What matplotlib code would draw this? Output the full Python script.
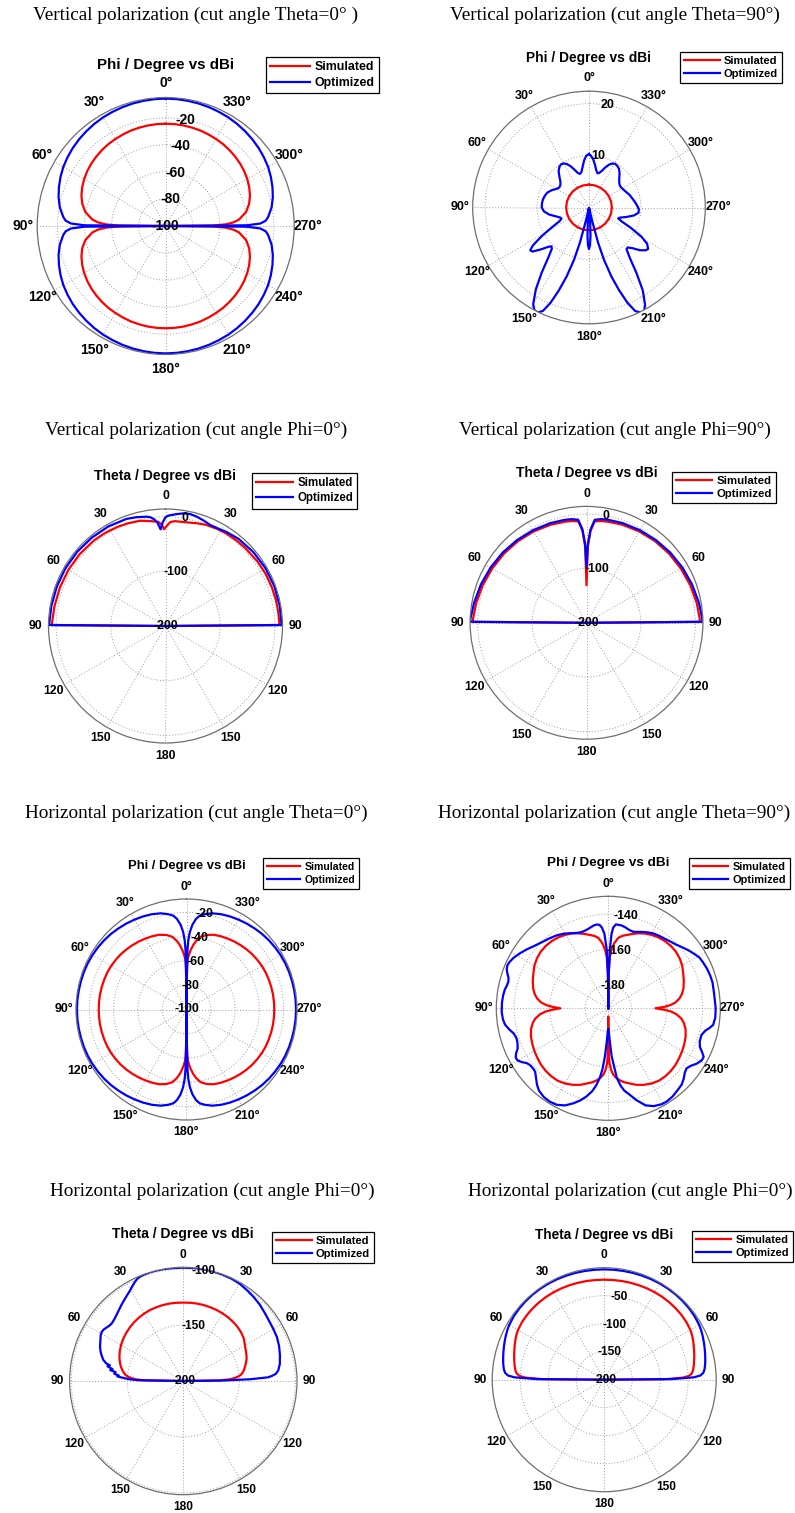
import numpy as np
import matplotlib.pyplot as plt

plt.rcParams['font.family'] = ['Liberation Sans', 'DejaVu Sans']

W, H = 795, 1513
fig = plt.figure(figsize=(W / 100, H / 100), dpi=100)

#-------------------------------------- labels
phi_labels   = ['0°', '30°', '60°', '90°', '120°', '150°', '180°', '210°', '240°', '270°', '300°', '330°']
theta_labels = ['0', '30', '60', '90', '120', '150', '180', '150', '120', '90', '60', '30']
sup_titles = ['Vertical polarization (cut angle Theta=0° )',
              'Vertical polarization (cut angle Theta=90°)',
              'Vertical polarization (cut angle Phi=0°)',
              'Vertical polarization (cut angle Phi=90°)',
              'Horizontal polarization (cut angle Theta=0°)',
              'Horizontal polarization (cut angle Theta=90°)',
              'Horizontal polarization (cut angle Phi=0°)',
              'Horizontal polarization (cut angle Phi=0°)']
sub_titles = ['Phi / Degree vs dBi'] * 2 + ['Theta / Degree vs dBi'] * 2 + \
             ['Phi / Degree vs dBi'] * 2 + ['Theta / Degree vs dBi'] * 2

#-------------------------------------- panel 1 : vertical, theta = 0 (phi cut)
p1_ang = [0, 5, 10, 15, 20, 25, 30, 35, 40, 45, 50, 55, 60, 65, 70, 75, 80, 85, 87, 88.5, 89.5, 90,
          90.5, 91.5, 93, 95, 100, 105, 110, 115, 120, 125, 130, 135, 140, 145, 150, 155, 160, 165, 170, 175, 180,
          185, 190, 195, 200, 205, 210, 215, 220, 225, 230, 235, 240, 245, 250, 255, 260, 265, 267, 268.5, 269.5, 270,
          270.5, 271.5, 273, 275, 280, 285, 290, 295, 300, 305, 310, 315, 320, 325, 330, 335, 340, 345, 350, 355, 360]
p1_sim_up  = [-24.4, -24.4, -24.5, -24.7, -24.9, -25.3, -25.7, -26.1, -26.7, -27.4, -28.2, -29.2, -30.4, -31.9,
              -33.7, -36.1, -39.6, -45.6, -50.0, -56.0, -65.6, -100]
p1_sim_dn  = [-65.6, -56.0, -50.0, -45.6, -39.6, -36.1, -33.7, -31.9, -30.4, -29.2, -28.2, -27.4, -26.7, -26.1,
              -25.7, -25.3, -24.9, -24.7, -24.5, -24.4, -24.4]
p1_sim_up2 = [-24.4, -24.5, -24.7, -24.9, -25.3, -25.7, -26.1, -26.7, -27.4, -28.2, -29.2, -30.4, -31.9, -33.7,
              -36.1, -39.6, -45.6, -50.0, -56.0, -65.6, -100]
p1_opt_up  = [-5.8, -5.85, -6.0, -6.2, -6.5, -6.9, -7.3, -7.9, -8.6, -9.4, -10.3, -11.4, -12.6, -14.2,
              -16.0, -18.0, -20.5, -24.0, -26.0, -30.0, -40.0, -100]
p1_opt_dn  = [-40.0, -30.0, -26.0, -24.0, -20.5, -18.0, -16.0, -14.2, -12.6, -11.4, -10.3, -9.4, -8.6, -7.9,
              -7.3, -6.9, -6.5, -6.2, -6.0, -5.85, -5.8]
p1_opt_up2 = [-5.85, -6.0, -6.2, -6.5, -6.9, -7.3, -7.9, -8.6, -9.4, -10.3, -11.4, -12.6, -14.2, -16.0,
              -18.0, -20.5, -24.0, -26.0, -30.0, -40.0, -100]
p1_sim = p1_sim_up + p1_sim_dn + p1_sim_up2 + p1_sim_dn
p1_opt = p1_opt_up + p1_opt_dn + p1_opt_up2 + p1_opt_dn

#-------------------------------------- panel 2 : vertical, theta = 90 (phi cut)
p2_sim_ang = [0, 15, 30, 45, 60, 75, 90, 105, 120, 135, 150, 165, 180,
              195, 210, 225, 240, 255, 270, 285, 300, 315, 330, 345, 360]
p2_sim = [4.4] * 25
p2_opt_ang = [0, 3, 6, 9, 12, 15, 18, 21, 24, 27, 30, 33, 36, 40, 44, 48, 52, 56, 60, 65,
              70, 75, 80, 85, 90, 95, 100, 105, 109, 112, 115, 118, 121, 124, 126, 128, 131, 134, 136, 138,
              141, 144, 147, 150, 152, 154, 156, 158, 160, 162, 164, 165.5, 166.5, 167.5, 170, 173, 175, 177, 178.5, 180,
              181.5, 183, 185, 187, 190, 192.5, 193.5, 194.5, 196, 198, 200, 202, 204, 206, 208, 210, 213, 216, 219, 222,
              224, 227, 230, 233, 235, 238, 241, 244, 247, 249.5, 252, 256, 260, 264, 268, 272, 277, 282, 287, 292,
              297, 302, 306, 310, 314, 318, 322, 326, 329, 332, 335, 338, 341, 344, 346, 349, 352, 355, 358, 360]
p2_opt = [10.3, 10.0, 9.1, 7.9, 7.0, 6.7, 7.0, 7.8, 8.7, 9.4, 9.8, 9.9, 9.7, 9.1, 8.2, 7.4, 7.0, 6.9, 7.2, 7.9,
          8.5, 8.8, 9.0, 9.1, 9.1, 8.7, 7.8, 6.6, 5.9, 5.7, 6.3, 8.0, 10.5, 13.0, 14.0, 13.8, 12.3, 10.9, 10.4, 10.7,
          12.5, 15.5, 18.8, 21.5, 22.4, 22.5, 21.8, 19.8, 17.0, 14.0, 10.5, 7.0, 3.0, 0.5, 0.1, 0.5, 2.5, 5.5, 7.3, 8.0,
          7.3, 5.5, 2.5, 0.5, 0.1, 0.5, 3.0, 7.0, 10.5, 14.0, 17.0, 19.8, 21.8, 22.5, 22.6, 21.6, 19.0, 15.5, 12.5, 10.8,
          10.7, 11.5, 12.8, 13.7, 13.9, 13.2, 11.5, 9.0, 6.8, 6.0, 6.3, 7.5, 8.8, 9.6, 9.6, 9.3, 8.9, 8.5, 8.2, 7.8,
          7.5, 7.3, 7.3, 7.6, 8.1, 8.8, 9.4, 9.7, 9.8, 9.6, 9.1, 8.3, 7.4, 6.9, 6.8, 7.3, 8.3, 9.3, 10.0, 10.3]

#-------------------------------------- panel 3 : vertical, phi = 0 (theta cut)
p3_sim_ang = [-90, -89.5, -88, -83, -77, -70, -62.5, -55, -46, -40, -33, -28, -22, -17, -11.5, -5, -2.5, -1,
              0.9, 2, 4, 8.4, 13.6, 20, 26, 33, 40, 50, 60, 70, 80, 88, 89.5, 90]
p3_sim = [-200, 8.2, 8.2, 7.8, 7.5, 7.0, 6.5, 5.5, 4.0, 3.3, 2.5, 1.2, -0.6, -3.5, -6.5, -7.5, -10, -16,
          -23, -15, -9, -6, -2, 0, 1.5, 3, 4, 4.8, 5.2, 5.6, 6.3, 7.5, 8, -200]
p3_opt_ang = [-90, -89.5, -88, -80, -70, -60, -50, -40, -33, -28, -24, -20, -16, -12.3, -9, -6, -3.2, -1.5,
              0, 1.5, 2.9, 4.5, 6, 8, 10, 15, 20, 30, 40, 50, 60, 70, 80, 88, 89.5, 90]
p3_opt = [-200, 12, 12, 12.2, 12, 11.3, 10, 8, 5, 2.5, 2, 5, 8, 9.7, 8.5, 6, 3.4, 2,
          -1, -10, -23, -10, -4, 1, 3, 6, 8.5, 10, 10.5, 11, 11.3, 11.5, 12, 12.5, 12.5, -200]

#-------------------------------------- panel 4 : vertical, phi = 90 (theta cut)
p4_ang = [-90, -89.5, -88, -80, -70, -60, -50, -40, -30, -20, -12, -8, -4.6, -2.5, -1,
          0, 1, 2.5, 4.6, 8, 12, 20, 30, 40, 50, 60, 70, 80, 88, 89.5, 90]
p4_sim = [-200, 8.5, 8.3, 6, 3, 0, -2, -4, -6, -8, -10, -11, -13, -31, -60,
          -131, -60, -31, -13, -11, -10, -8, -6, -4, -2, 0, 3, 6, 8.8, 9.2, -200]
p4_opt = [-200, 13.2, 13, 10, 6.5, 3.5, 1, -1.5, -3.5, -5, -6.5, -7.5, -10, -28, -55,
          -98, -55, -28, -10, -7.5, -6.5, -5, -3.5, -1.5, 1, 3.5, 6.5, 10, 13.5, 13.8, -200]

#-------------------------------------- panel 5 : horizontal, theta = 0 (phi cut)
p5_ang = [0, 0.5, 1, 1.5, 2.5, 4, 6, 8, 11, 15, 20, 25, 30, 35, 40, 45, 50, 55, 60, 65, 70, 75, 80, 85, 90,
          95, 100, 105, 110, 115, 120, 125, 130, 135, 140, 145, 150, 155, 160, 165, 169, 172, 174, 176, 177.5,
          178.5, 179, 179.5, 180,
          180.5, 181, 181.5, 182.5, 184, 186, 188, 191, 195, 200, 205, 210, 215, 220, 225, 230, 235, 240, 245, 250,
          255, 260, 265, 270,
          275, 280, 285, 290, 295, 300, 305, 310, 315, 320, 325, 330, 335, 340, 345, 349, 352, 354, 356, 357.5,
          358.5, 359, 359.5, 360]
p5_sim_a = [-100, -75, -62, -58, -55, -51, -46.5, -43, -39, -36.5, -34.5, -33.4, -32.5, -31.6, -30.8, -30.0,
            -29.3, -28.8, -28.3, -28.0, -27.9, -27.8, -27.7, -27.7, -27.7]
p5_sim_b = [-27.7, -27.7, -27.8, -27.9, -28.0, -28.3, -28.8, -29.3, -30.0, -30.8, -31.6, -32.5, -33.4, -34.5,
            -36.5, -39, -43, -46.5, -51, -55, -58, -62, -75, -100]
p5_sim_c = [-75, -62, -58, -55, -51, -46.5, -43, -39, -36.5, -34.5, -33.4, -32.5, -31.6, -30.8, -30.0, -29.3,
            -28.8, -28.3, -28.0, -27.9, -27.8, -27.7, -27.7, -27.7]
p5_opt_a = [-100, -70, -50, -43, -36, -30, -25, -22, -20, -18, -16.5, -15.4, -14.5, -13.6, -12.8, -12.0,
            -11.4, -10.9, -10.5, -10.2, -10.05, -10.0, -9.9, -9.8, -9.8]
p5_opt_b = [-9.8, -9.9, -10.0, -10.05, -10.2, -10.5, -10.9, -11.4, -12.0, -12.8, -13.6, -14.5, -15.4, -16.5,
            -18, -20, -22, -25, -30, -36, -43, -50, -70, -100]
p5_opt_c = [-70, -50, -43, -36, -30, -25, -22, -20, -18, -16.5, -15.4, -14.5, -13.6, -12.8, -12.0, -11.4,
            -10.9, -10.5, -10.2, -10.05, -10.0, -9.9, -9.8, -9.8]
p5_sim = p5_sim_a + p5_sim_b + p5_sim_c + p5_sim_b
p5_opt = p5_opt_a + p5_opt_b + p5_opt_c + p5_opt_b

#-------------------------------------- panel 6 : horizontal, theta = 90 (phi cut)
p6_sim_ang = [0, 0.8, 1.8, 3, 5, 8, 11, 14, 18, 22, 26, 30, 35, 40, 45, 50, 55, 60, 65, 70,
              75, 79, 82, 85, 87, 88.5, 90, 91.5, 93, 95, 98, 101, 105, 110, 115, 120, 125, 130, 135, 140,
              145, 150, 155, 160, 164, 168, 171, 174, 176, 177.5, 178.7, 179.3, 180,
              180.7, 181.3, 182.5, 184, 186, 189, 192, 196, 200, 205, 210, 215, 220, 225, 230, 235, 240, 245, 250, 255,
              259, 262, 265, 267, 268.5, 270, 271.5, 273, 275, 278, 281, 285, 290, 295, 300, 305, 310, 315, 320, 325,
              330, 334, 338, 342, 346, 349, 352, 355, 357, 358.2, 359.2, 360]
p6_sim = [-193, -172, -164, -160.5, -156.5, -153, -151.5, -150.5, -149, -147.5, -146.2, -145.2, -144.2, -143.6,
          -143.3, -143.4, -144, -145, -146.5, -147.8,
          -149.2, -150.8, -152.5, -155, -158, -161.5, -166, -161.5, -157.5, -154.5, -151.5, -149.7, -148, -146.7,
          -145.8, -145, -144.3, -143.6, -143.2, -143.1,
          -143.3, -144.2, -145.5, -147.2, -149, -150.5, -152, -154, -156, -158.5, -162, -166, -188.4,
          -166, -162, -158.5, -156, -154, -152, -150.5, -149, -147.2, -145.5, -144.2, -143.3, -143.1, -143.2, -143.6,
          -144.3, -145, -145.8, -146.7, -148,
          -149.7, -151.5, -154.5, -157.5, -161.5, -166.5, -161.5, -158, -155, -152.5, -150.8, -149.2, -147.8, -146.5,
          -145, -144, -143.4, -143.3, -143.6, -144.2,
          -145.2, -146.2, -147.5, -149, -150.5, -151.5, -153, -156.5, -160.5, -164, -172, -193]
p6_opt_ang = [0, 0.5, 1.5, 3, 4.5, 6, 8, 10, 13, 16, 19, 22, 25, 28, 31, 35, 40, 46, 50, 54,
              58, 62, 65, 67, 69, 71, 73, 75, 77, 80, 83, 87, 92, 96, 99, 102, 105, 108, 111, 114,
              116, 118, 120, 122, 124, 126, 129, 131, 134, 137, 140, 144, 148, 152, 156, 160, 163, 166, 169, 171,
              173, 174.5, 176, 177.5, 179, 180,
              181, 182.5, 184, 185.7, 187, 189, 191, 194, 197, 201, 205, 209, 212, 216, 220, 224, 227, 230, 232.5, 235,
              238, 241, 243, 245, 247, 250, 254, 257, 259, 261, 265, 270, 274, 279, 284, 288, 292, 296, 299, 302,
              306, 310, 313, 317, 321, 325, 329, 333, 337, 340, 342, 345, 348, 351, 354.8, 356.5, 357.5, 358.5,
              359.5, 360]
p6_opt = [-193, -175, -160, -151, -147.5, -145.8, -145.4, -145.7, -146.6, -147.3, -147.6, -147.2, -146.3, -145.2,
          -144.1, -142.8, -141.6, -140, -138.5, -136.5,
          -134.5, -132.6, -131.6, -131.3, -131.8, -133, -134.3, -134.8, -134.6, -133.8, -133.4, -133.1, -133, -133.4,
          -134.2, -136, -138, -138.7, -138.3, -137.2,
          -135.3, -134, -134.2, -135.8, -137.8, -138.6, -138.8, -138.5, -136.5, -134.2, -132.4, -131.3, -131.0, -131.5,
          -133.2, -136.2, -138.8, -141.8, -145.5, -149,
          -153.5, -158.5, -166, -175, -180.5, -181.5,
          -180.5, -175, -166, -160, -153.5, -149, -145.8, -142.8, -139, -134.5, -132.3, -131.3, -131.1, -131.6, -132.6,
          -133.5, -135, -136.8, -137.5, -136.5,
          -134.3, -132.8, -132.8, -134.8, -137, -138.3, -138.5, -137, -135, -133.3, -132.6, -132.6, -132.9, -132.9,
          -132.6, -132.8, -133.2, -133.8, -134.3, -135.6,
          -137.4, -139.3, -140.6, -141.7, -142.6, -143.2, -143.9, -145, -146.3, -147.3, -147.7, -147.4, -146.5, -145.8,
          -145.6, -147.5, -151, -160, -175, -193]

#-------------------------------------- panel 7 : horizontal, phi = 0 (theta cut)
p7_sim_ang = [-90, -89.2, -88, -86.8, -85.5, -84, -82, -80, -77, -74, -70, -65, -60, -55, -50, -45, -40, -35,
              -30, -25, -20, -15, -10, -5, 0, 5, 10, 15, 20, 25, 30, 35, 40, 45, 50, 55, 60, 65, 70, 74,
              77, 80, 82, 84, 85.5, 86.8, 88, 89, 90]
p7_sim = [-200, -168, -159, -154.5, -151, -148.5, -146.5, -145.2, -143.5, -141.8, -139.8, -138.2, -136.5, -134,
          -132.6, -131.6, -131, -130.5, -130.2, -130, -129.9, -129.8, -129.8, -129.9, -130, -129.9, -129.8, -129.8,
          -129.9, -130, -130.4, -130.9, -131.6, -132.4, -133.4, -134.5, -135.8, -137.4, -139.3, -141.2,
          -142.8, -144.8, -146.3, -148.2, -150.5, -153.5, -158, -165, -200]
p7_opt_ang = [-90, -89.3, -88.5, -87.5, -86.5, -85.5, -83.5, -80, -75, -70, -65, -60, -55, -50, -45, -40, -35,
              -30, -25, -20, -15, -10, -5, 0, 5, 10, 14, 17, 20, 22, 24, 26, 28, 30, 33, 36, 39, 42, 45, 48,
              51, 53, 55, 57, 59, 61, 63, 65.5, 67.6, 70, 72, 74, 75.3, 76.2, 77, 78, 79, 80.5, 81.5, 82.5,
              84, 85, 86, 87, 88.2, 89, 90]
p7_opt = [-200, -165, -140, -124, -120, -117, -114.6, -112.5, -110.7, -109, -107.7, -107.2, -106.5, -105.2,
          -103.5, -102.2, -101, -99.6, -99, -98.7, -98.6, -98.6, -98.7, -98.8, -98.8, -98.6, -98.5, -98.5, -98.7,
          -99, -99.8, -101.5, -103.6, -105.8, -108.3, -110.4, -112.4, -114.3, -116, -117.3,
          -118, -117.6, -116.6, -115.4, -115, -115.7, -117, -118.5, -119.6, -121.3, -123, -125, -126.2, -128,
          -129, -133, -131, -136, -134, -139, -138, -142, -141, -146, -152, -160, -200]

#-------------------------------------- panel 8 : horizontal, phi = 0 (theta cut)
p8_ang = [-90, -89.5, -88.5, -87.5, -86, -84, -81, -78, -75, -72, -69, -66, -63, -60, -55, -50, -45, -40,
          -35, -30, -25, -20, -15, -10, -5, 0, 5, 10, 15, 20, 25, 30, 35, 40, 45, 50, 55, 60, 63, 66,
          69, 72, 75, 78, 81, 84, 86, 87.5, 88.5, 89.5, 90]
p8_sim = [-200, -90, -60, -49, -43.5, -40.5, -38, -35.8, -33.5, -31.2, -28.8, -26.3, -24, -22.3, -20.8, -20.0,
          -19.6, -19.4, -19.4, -19.6, -19.9, -20.3, -20.7, -21.0, -21.3, -21.4, -21.3, -21.0, -20.7, -20.3,
          -19.9, -19.6, -19.4, -19.4, -19.6, -20.0, -20.8, -22.3, -24, -26.3,
          -28.8, -31.2, -33.5, -35.8, -38, -40.5, -43.5, -49, -60, -90, -200]
p8_opt = [-200, -80, -40, -28, -22.5, -19.8, -17.4, -15.5, -13.6, -11.6, -9.6, -7.6, -5.7, -4.2, -2.8, -2.0,
          -1.6, -1.45, -1.45, -1.6, -1.9, -2.2, -2.5, -2.8, -2.95, -3.0, -2.95, -2.8, -2.5, -2.2,
          -1.9, -1.6, -1.45, -1.45, -1.6, -2.0, -2.8, -4.2, -5.7, -7.6,
          -9.6, -11.6, -13.6, -15.5, -17.4, -19.8, -22.5, -28, -40, -80, -200]

sim_series = [(p1_ang, p1_sim), (p2_sim_ang, p2_sim), (p3_sim_ang, p3_sim), (p4_ang, p4_sim),
              (p5_ang, p5_sim), (p6_sim_ang, p6_sim), (p7_sim_ang, p7_sim), (p8_ang, p8_sim)]
opt_series = [(p1_ang, p1_opt), (p2_opt_ang, p2_opt), (p3_opt_ang, p3_opt), (p4_ang, p4_opt),
              (p5_ang, p5_opt), (p6_opt_ang, p6_opt), (p7_opt_ang, p7_opt), (p8_ang, p8_opt)]

r_limits = [(-100, -5), (0, 22.4), (-200, 14), (-200, 14), (-100, -9), (-193, -130), (-200, -98.5), (-200, 0)]
r_ticks  = [[-100, -80, -60, -40, -20], [10, 20], [-200, -100, 0], [-200, -100, 0],
            [-100, -80, -60, -40, -20], [-180, -160, -140], [-200, -150, -100], [-200, -150, -100, -50]]
use_phi  = [True, True, False, False, True, True, False, False]

#-------------------------------------- layout (pixels)
# cx, cy, R, tick fs, title fs, legend fs, legend box (x1, y0), suptitle (x, y)
layout = [
    (165.7, 226.0, 128.5, 10.0, 10.9, 8.9, (379, 57),   (196, 15)),
    (589.0, 207.5, 116.3, 9.0,  9.9,  8.0, (782, 52),   (615, 15)),
    (165.5, 626.0, 117.0, 8.8,  10.1, 8.3, (357, 473),  (196, 430)),
    (586.5, 622.8, 116.4, 8.8,  10.0, 8.2, (776, 472),  (615, 430)),
    (186.5, 1009.5, 110.5, 8.9, 9.4,  7.6, (359, 858),  (196, 813)),
    (608.3, 1008.3, 112.0, 8.9, 9.7,  7.9, (790, 858),  (614, 813)),
    (183.3, 1381.0, 113.7, 8.6, 10.0, 8.0, (374, 1232), (212, 1191)),
    (604.2, 1379.7, 112.0, 8.6, 9.8,  7.9, (793, 1231), (630, 1191)),
]

for i in range(8):
    cx, cy, R, fs, tfs, lfs, (lx, ly), (sx, sy) = layout[i]
    ax = fig.add_axes([(cx - R) / W, 1 - (cy + R) / H, 2 * R / W, 2 * R / H], projection='polar')
    ax.set_theta_zero_location('N')
    ax.set_theta_direction(1)

    a, v = sim_series[i]
    ax.plot(np.deg2rad(a), v, color='#ff0000', lw=1.6, label='Simulated')
    a, v = opt_series[i]
    ax.plot(np.deg2rad(a), v, color='#0000ff', lw=1.6, label='Optimized')

    ax.set_ylim(*r_limits[i])
    ax.set_xticks(np.deg2rad(np.arange(0, 360, 30)))
    ax.set_xticklabels([])
    ax.set_yticks(r_ticks[i])
    ax.set_yticklabels([])
    ax.grid(True, color='#9c9c9c', linestyle=(0, (1, 2)), linewidth=0.7)
    ax.spines['polar'].set_edgecolor('#6e6e6e')
    ax.spines['polar'].set_linewidth(0.9)

    labels = phi_labels if use_phi[i] else theta_labels
    for k, lab in enumerate(labels):
        t = np.deg2rad(30 * k)
        ax.text(0.5 - 0.555 * np.sin(t), 0.5 + 0.555 * np.cos(t), lab, transform=ax.transAxes,
                ha='center', va='center', fontsize=fs, fontweight='bold')
    for rv in r_ticks[i]:
        ax.text(np.deg2rad(-10.5), rv, f'{rv:g}', ha='center', va='center',
                fontsize=fs, fontweight='bold', zorder=5)

    leg = ax.legend(loc='upper right', bbox_to_anchor=(lx / W, 1 - ly / H), bbox_transform=fig.transFigure,
                    fancybox=False, edgecolor='black', framealpha=1, borderaxespad=0,
                    prop={'weight': 'bold', 'size': lfs}, handlelength=3.2, handletextpad=0.4,
                    borderpad=0.35, labelspacing=0.3)
    leg.get_frame().set_linewidth(0.9)

    fig.text(cx / W, 1 - (cy - R - 33) / H, sub_titles[i], ha='center', va='center',
             fontsize=tfs, fontweight='bold')
    fig.text(sx / W, 1 - sy / H, sup_titles[i], ha='center', va='center',
             fontsize=13.9, family='Liberation Serif')

fig.savefig('out.png', dpi=100)
